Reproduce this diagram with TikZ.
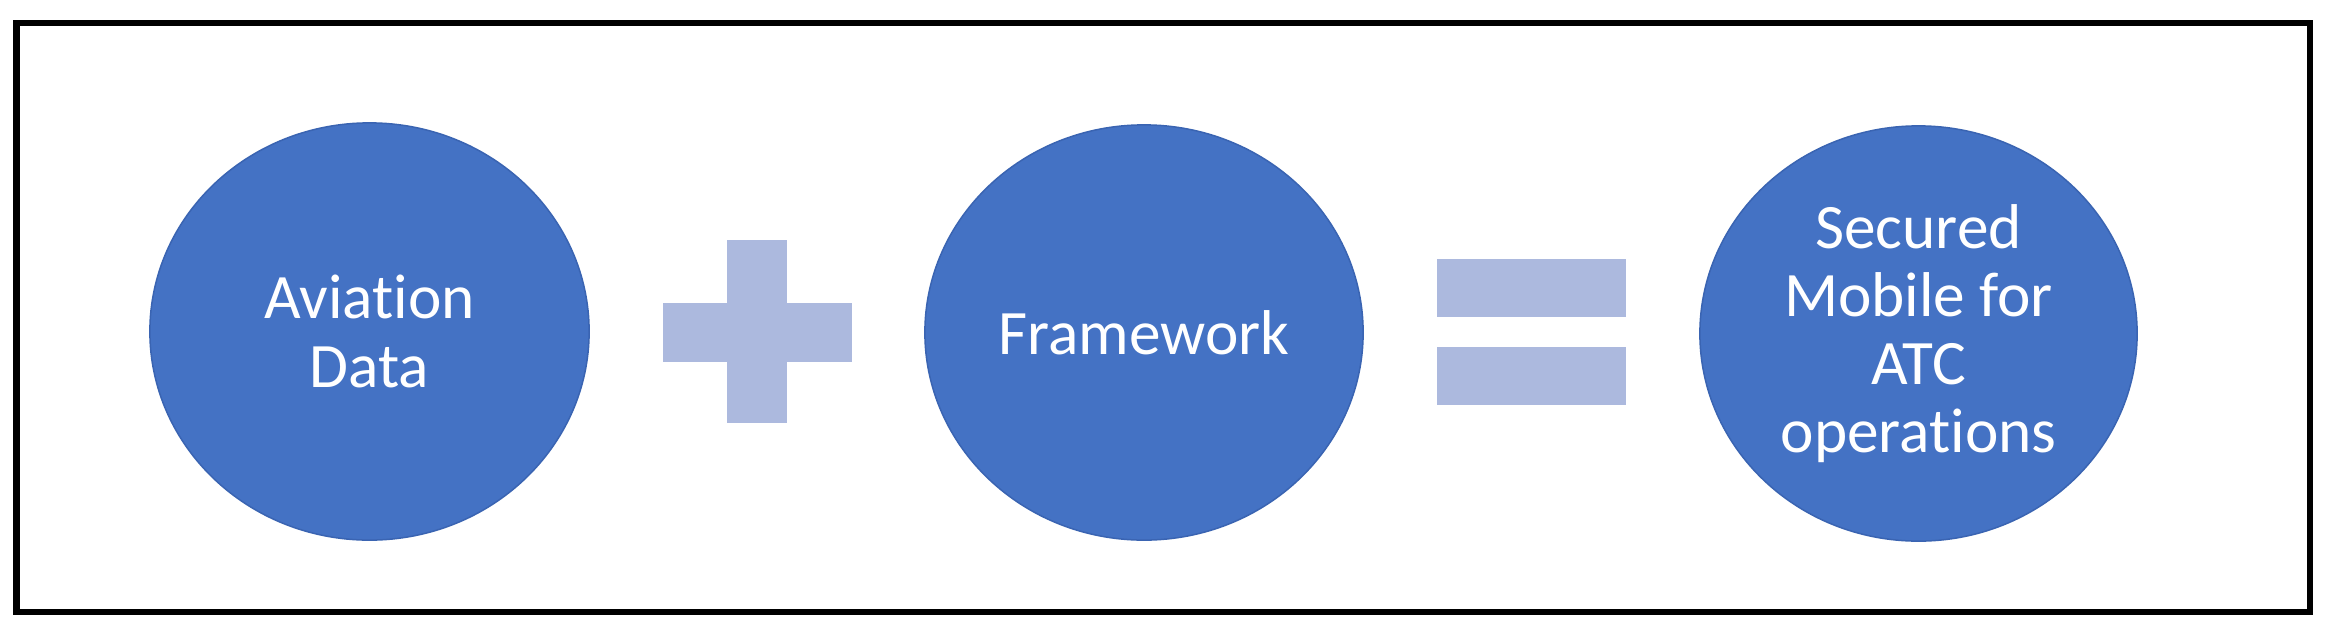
\documentclass[tikz,border=0pt]{standalone}
\usepackage{fontspec}
\setmainfont{Carlito}[Ligatures={NoCommon,NoRequired,NoContextual}]
\usetikzlibrary{shapes.geometric}
\definecolor{circblue}{HTML}{4472C4}
\definecolor{circedge}{HTML}{3A64B2}
\definecolor{signblue}{HTML}{ACB9DE}
\tikzset{
  bubble/.style={ellipse, fill=circblue, draw=circedge, line width=0.015cm,
    inner sep=0pt, text=white, align=center,
    font=\fontsize{18pt}{19.4pt}\selectfont},
  signbar/.style={fill=signblue, draw=none},
  frame/.style={draw=black, line width=0.06cm}
}
\begin{document}
\begin{tikzpicture}[x=0.01cm, y=-0.01cm]
\useasboundingbox (0,0) rectangle (2331,627);
\fill[white] (0,0) rectangle (2331,627);
\draw[frame] (16.5,23) rectangle (2309.5,612);
% circles
\node[bubble, minimum width=4.39cm, minimum height=4.17cm] (aviation) at (369.5,331.5) {Aviation\\Data};
\node[bubble, minimum width=4.38cm, minimum height=4.15cm] (framework) at (1144,332.5) {Framework};
\node[bubble, minimum width=4.37cm, minimum height=4.15cm] (secured) at (1918.5,333.5) {Secured\\Mobile for\\ATC\\operations};
% plus sign
\fill[signbar] (727,240) rectangle (787,423);
\fill[signbar] (663,303) rectangle (852,362);
% equals sign
\fill[signbar] (1437,259) rectangle (1626,317);
\fill[signbar] (1437,347) rectangle (1626,405);
\end{tikzpicture}
\end{document}
